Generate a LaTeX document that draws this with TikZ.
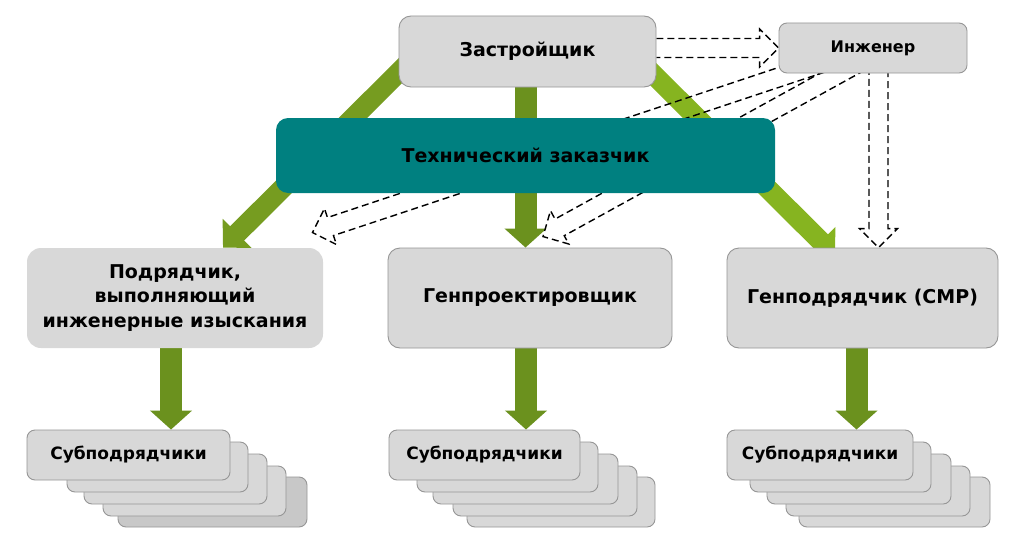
\documentclass[tikz,border=0pt]{standalone}
\usepackage{fontspec}
\setmainfont{DejaVu Sans}
\usetikzlibrary{arrows.meta,calc}
\pgfdeclarelayer{bottom}
\pgfdeclarelayer{background}
\pgfsetlayers{bottom,background,main}
\definecolor{boxgray}{RGB}{216,216,216}
\definecolor{backgray}{RGB}{200,200,200}
\definecolor{bordergray}{RGB}{150,150,150}
\definecolor{tealbox}{RGB}{0,128,128}
\definecolor{gdark}{RGB}{107,145,30}
\definecolor{gleft}{RGB}{118,156,32}
\definecolor{gright}{RGB}{134,180,32}
\newcommand{\blockarr}[2]{%
  \path (#1) coordinate (ba-a) (#2) coordinate (ba-b);
  \coordinate (ba-h) at ($(ba-b)!19pt!(ba-a)$);
  \draw[dasharr] ($(ba-a)!9.5pt!90:(ba-b)$) -- ($(ba-h)!9.5pt!-90:(ba-a)$)
     -- ($(ba-h)!19pt!-90:(ba-a)$) -- (ba-b) -- ($(ba-h)!19pt!90:(ba-a)$)
     -- ($(ba-h)!9.5pt!90:(ba-a)$) -- ($(ba-a)!9.5pt!-90:(ba-b)$);
}
\tikzset{
  gbox/.style={rounded corners=12pt, fill=boxgray, draw=bordergray, line width=0.9pt,
    inner sep=0pt, align=center, font=\fontsize{19}{24.5}\selectfont\bfseries},
  sbox/.style={rounded corners=8pt, fill=boxgray, draw=bordergray, line width=0.9pt,
    inner sep=0pt, minimum height=50pt, font=\fontsize{17}{20}\selectfont\bfseries},
  garr/.style={line width=22pt, -{Triangle[length=19pt,width=41pt]}},
  gdiag/.style={line width=20pt, -{Triangle[length=20pt,width=40pt]}},
  dasharr/.style={draw=black, line width=1.4pt, dash pattern=on 7pt off 4pt, line join=miter},
}
\begin{document}
\begin{tikzpicture}[x=1pt,y=-1pt]
\useasboundingbox (0,0) rectangle (1024,551);
\begin{pgfonlayer}{bottom}
  \fill[white] (0,0) rectangle (1024,551);
\end{pgfonlayer}
% top boxes
\node[gbox, minimum width=257pt, minimum height=71pt] (z) at (527.5,51.5) {Застройщик};
\node[gbox, rounded corners=8pt, minimum width=188pt, minimum height=50pt,
  font=\fontsize{16}{20}\selectfont\bfseries] (inj) at (873,48) {Инженер};
\node[gbox, fill=tealbox, draw=none, minimum width=499pt, minimum height=75pt] (tz) at (525.5,155.5) {Технический заказчик};
% middle boxes
\node[gbox, draw=none, rounded corners=14pt, minimum width=296pt, minimum height=100pt] (p) at (175,298)
  {Подрядчик,\\выполняющий\\инженерные изыскания};
\node[gbox, minimum width=284pt, minimum height=100pt] (gp) at (530,298) {Генпроектировщик};
\node[gbox, minimum width=271pt, minimum height=100pt] (gc) at (862.5,298) {Генподрядчик (СМР)};
% left stack
\node[sbox, fill=backgray, minimum width=189pt] (la5) at (212.5,502) {};
\node[sbox, minimum width=183pt] (la4) at (194.5,491) {};
\node[sbox, minimum width=183pt] (la3) at (175.5,479) {};
\node[sbox, minimum width=181pt] (la2) at (157.5,467) {};
\node[sbox, minimum width=203pt] (la1) at (128.5,455) {Субподрядчики};
% middle stack
\node[sbox, minimum width=188pt] (ma5) at (561,502) {};
\node[sbox, minimum width=184pt] (ma4) at (545,491) {};
\node[sbox, minimum width=185pt] (ma3) at (525.5,479) {};
\node[sbox, minimum width=181pt] (ma2) at (507.5,467) {};
\node[sbox, minimum width=191pt] (ma1) at (484.5,455) {Субподрядчики};
% right stack
\node[sbox, minimum width=191pt] (ra5) at (894.5,502) {};
\node[sbox, minimum width=184pt] (ra4) at (878,491) {};
\node[sbox, minimum width=184pt] (ra3) at (859,479) {};
\node[sbox, minimum width=181pt] (ra2) at (840.5,467) {};
\node[sbox, minimum width=186pt] (ra1) at (820,455) {Субподрядчики};
\begin{pgfonlayer}{background}
  % green arrows
  \draw[gdiag, gleft] ([shift={(-104,-4)}]z.center) -- ([xshift=48pt]p.north);
  \draw[gdiag, gright] ([shift={(107.5,4.5)}]z.center) -- ([shift={(-27.5,8)}]gc.north);
  \coordinate (zm) at ([xshift=-2pt]z.center);
  \draw[garr, gdark] (zm) -- (zm |- gp.north);
  \coordinate (pb) at ([xshift=-4pt]p.south);
  \coordinate (gpb) at ([xshift=-4pt]gp.south);
  \coordinate (gcb) at ([xshift=-6pt]gc.south);
  \draw[garr, gdark] (pb) -- (pb |- la1.north);
  \draw[garr, gdark] (gpb) -- (gpb |- ma1.north);
  \draw[garr, gdark] (gcb) -- (gcb |- ra1.north);
  % dashed block arrows
  \blockarr{z.east |- inj.west}{inj.west}
  \blockarr{[shift={(-51,15)}]inj.center}{[shift={(-11,-15)}]p.north east}
  \blockarr{[shift={(-13,14)}]inj.center}{[shift={(13,-11)}]gp.north}
  \blockarr{[xshift=5.5pt]inj.center}{[xshift=16pt]gc.north}
\end{pgfonlayer}
\end{tikzpicture}
\end{document}
